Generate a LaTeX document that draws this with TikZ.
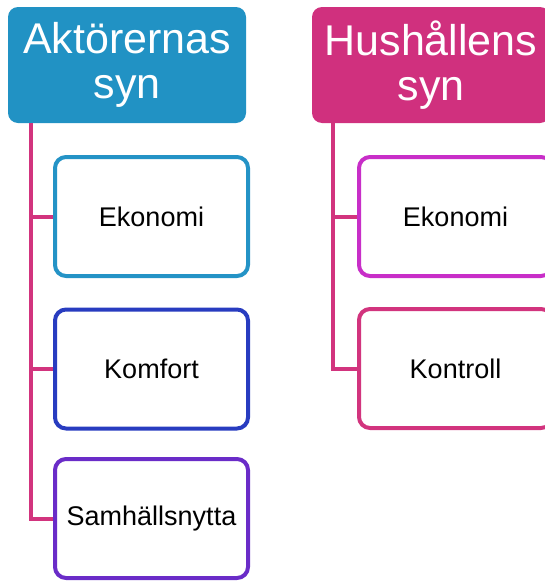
\documentclass[tikz,border=0pt]{standalone}
\usepackage{fontspec}
\setmainfont{Liberation Sans}
\definecolor{hblue}{RGB}{33,146,196}
\definecolor{hpink}{RGB}{208,48,126}
\definecolor{cblue}{RGB}{36,147,198}
\definecolor{cdeep}{RGB}{40,60,192}
\definecolor{cpurple}{RGB}{106,44,200}
\definecolor{cviolet}{RGB}{200,46,200}
\definecolor{cpink}{RGB}{210,52,126}
\tikzset{
  header/.style={rounded corners=10pt, minimum width=238pt, minimum height=116pt,
    text=white, font=\fontsize{43}{45}\selectfont, align=center, inner sep=0pt},
  childbox/.style={draw, line width=4pt, rounded corners=11pt, fill=white,
    minimum width=193pt, minimum height=119pt, inner sep=0pt,
    font=\fontsize{27}{30}\selectfont},
  conn/.style={draw=cpink, line width=4pt}
}
\begin{document}
\begin{tikzpicture}[x=1pt,y=-1pt]
\useasboundingbox (0,0) rectangle (545,581);
\node[header, fill=hblue] (h1) at (127,65) {Aktörernas\\syn};
\node[header, fill=hpink] (h2) at (431,65) {Hushållens\\syn};
% connectors left
\draw[conn] ([xshift=23pt]h1.south west) |- (151.5,216.5) coordinate (c1);
\draw[conn] ([xshift=23pt]h1.south west) |- (151.5,369) coordinate (c2);
\draw[conn] ([xshift=23pt]h1.south west) |- (151.5,518.5) coordinate (c3);
% connectors right
\draw[conn] ([xshift=21pt]h2.south west) |- (455.5,216.5) coordinate (d1);
\draw[conn] ([xshift=21pt]h2.south west) |- (455.5,368.5) coordinate (d2);
\node[childbox, draw=cblue] (e1) at (c1) {Ekonomi};
\node[childbox, draw=cdeep] (k1) at (c2) {Komfort};
\node[childbox, draw=cpurple] (s1) at (c3) {Samhällsnytta};
\node[childbox, draw=cviolet] (e2) at (d1) {Ekonomi};
\node[childbox, draw=cpink] (k2) at (d2) {Kontroll};
\end{tikzpicture}
\end{document}
